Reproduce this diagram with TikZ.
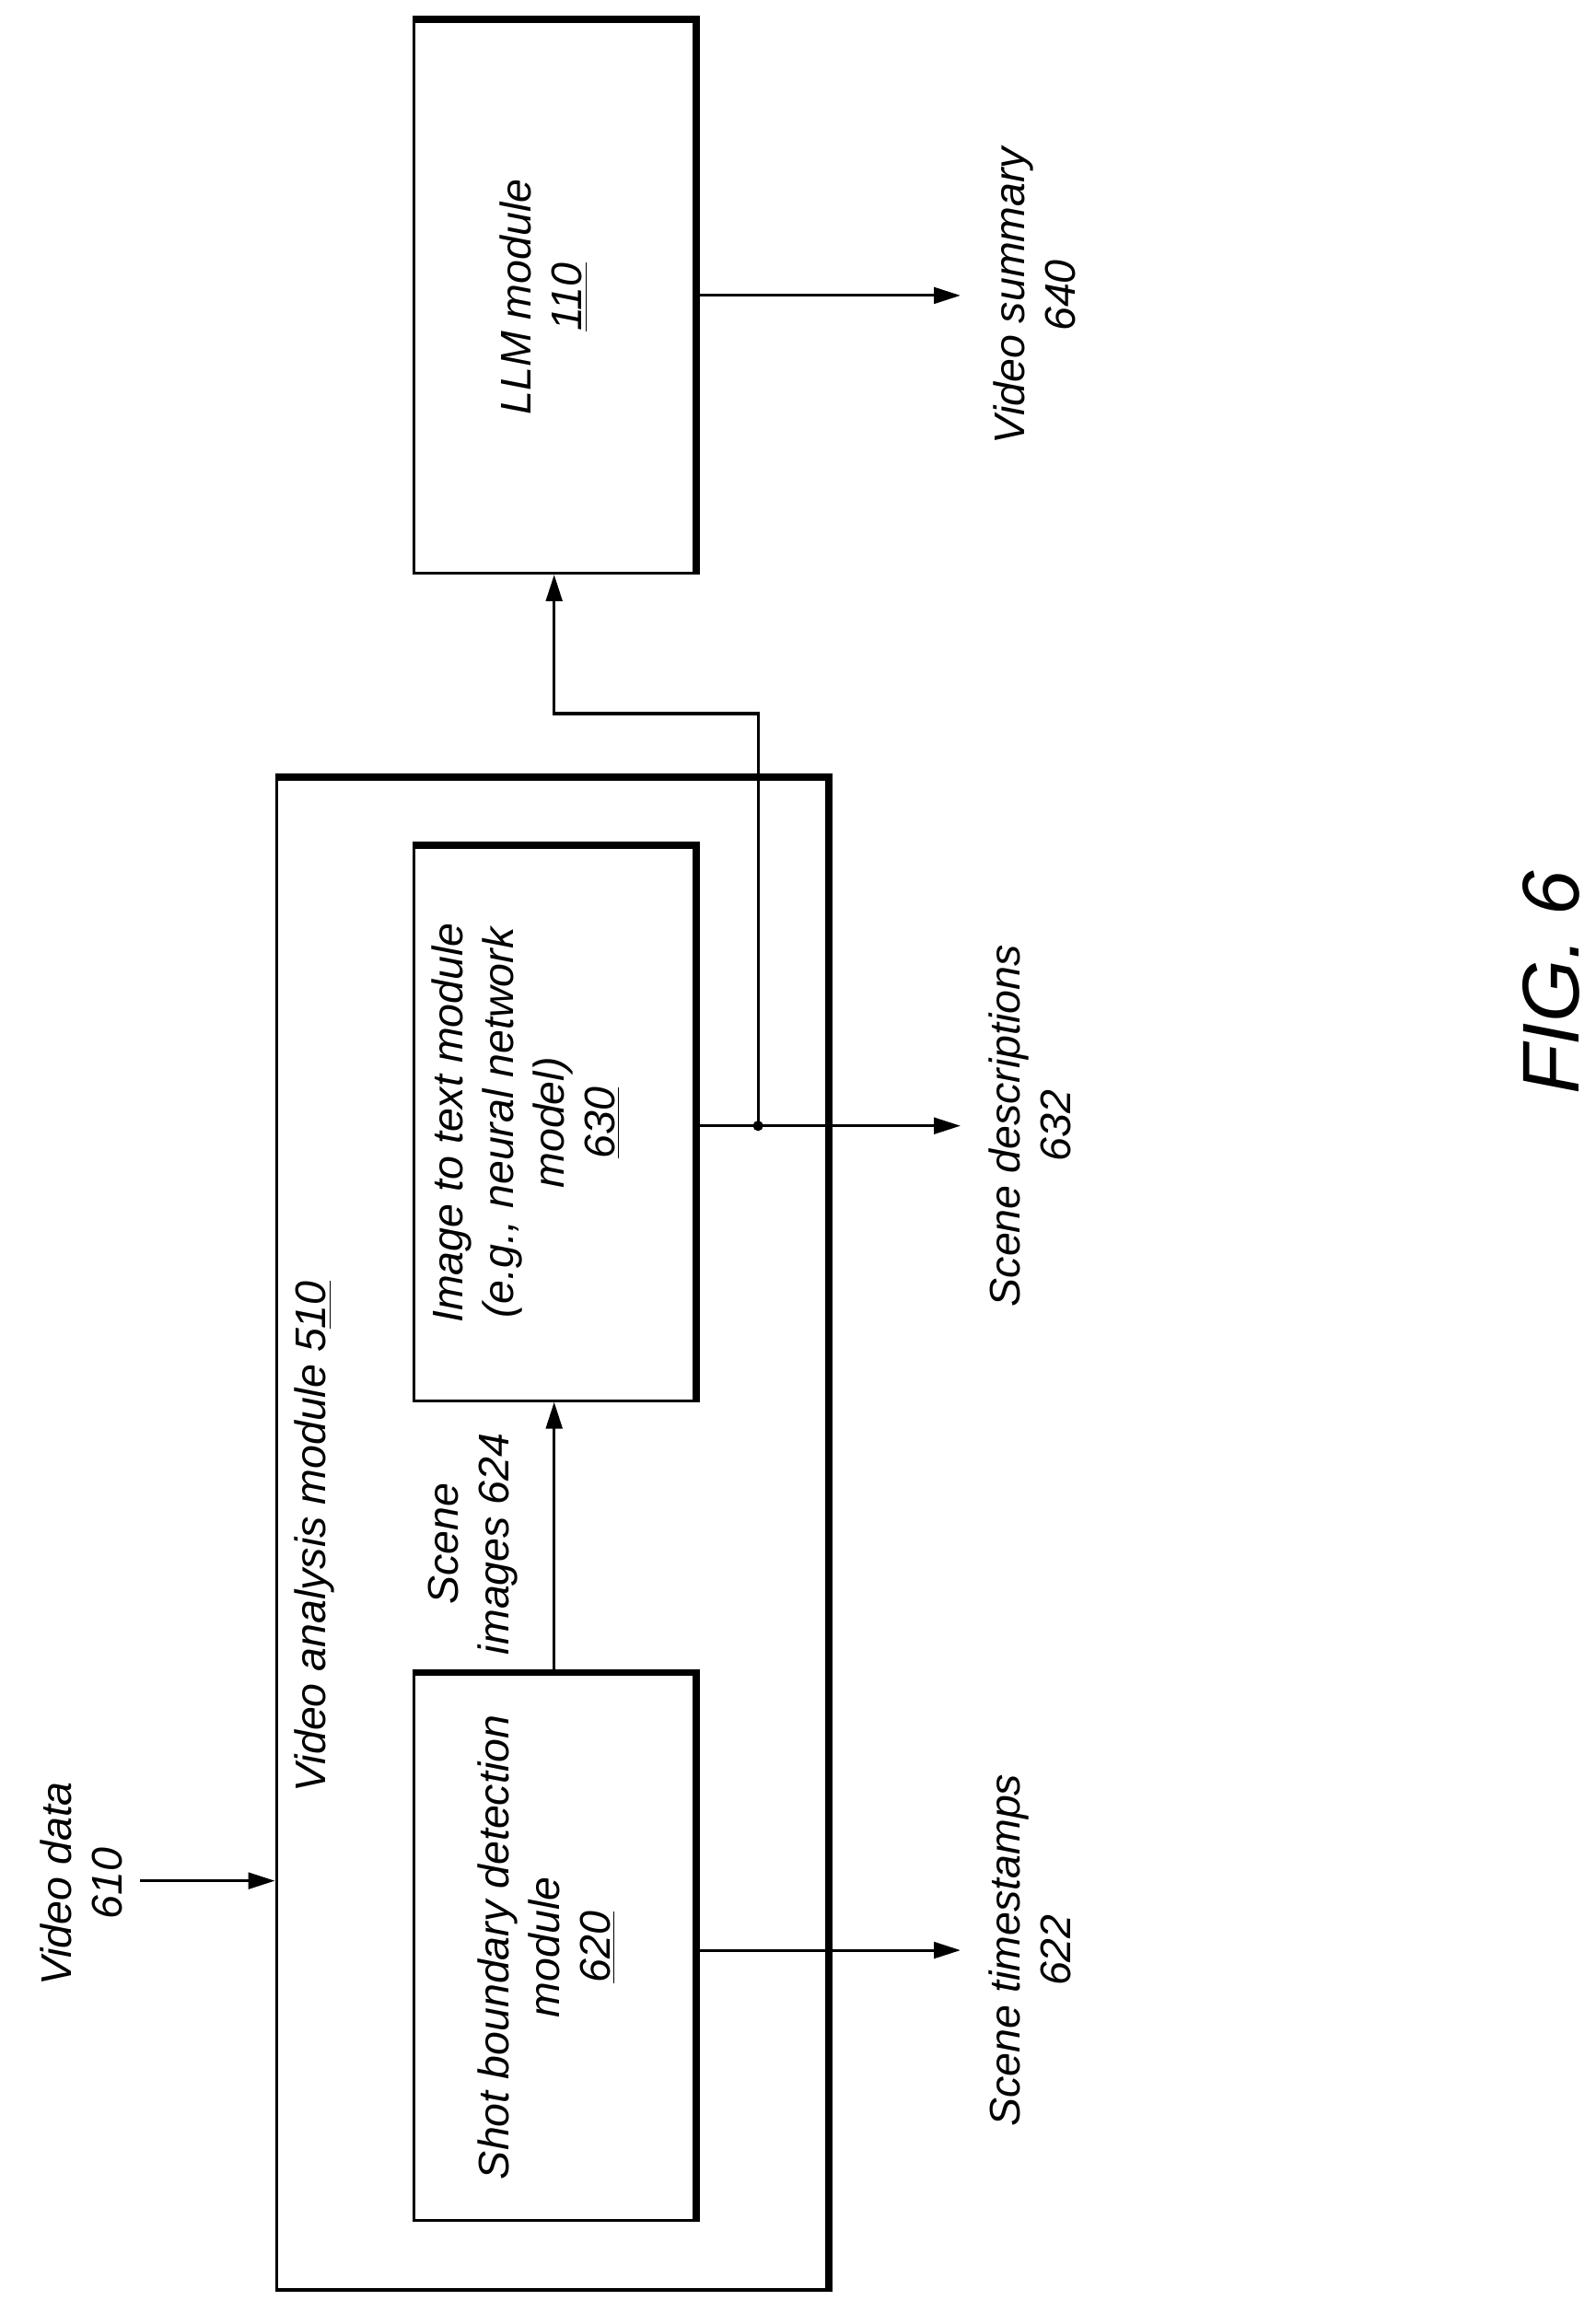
\documentclass[tikz,border=0pt]{standalone}
\usepackage{fontspec}
\setmainfont{Liberation Sans}
\usetikzlibrary{arrows.meta, positioning, calc}
\tikzset{
  box/.style={draw, line width=1.1pt, minimum width=3.8cm, inner sep=0pt},
  shadow edge/.style={line width=2.8pt},
  lbl/.style={rotate=90, align=center, font=\fontsize{16.5}{19.5}\selectfont\itshape},
  flow/.style={line width=1.1pt, -{Triangle[length=0.36cm, width=0.22cm]}}
}
\begin{document}
\begin{tikzpicture}[x=0.02cm, y=-0.02cm]
  \useasboundingbox (0,0) rectangle (1080,1573);
  % boxes
  \node[box, minimum width=7.46cm, minimum height=20.46cm] (vam) at (373.5,1038.5) {};
  \node[box, minimum height=7.4cm] (sbd) at (375,1318) {};
  \node[box, minimum height=7.5cm] (itt) at (375,760.5) {};
  \node[box, minimum height=7.48cm] (llm) at (375,201) {};
  \foreach \b in {vam, sbd, itt, llm}
    \draw[shadow edge] (\b.north west) -- (\b.north east) -- (\b.south east);
  % texts in boxes
  \node[lbl] (sbdtext) at (370,1318) {Shot boundary detection\\module\\\underline{620}};
  \node[lbl] (itttext) at (356,760) {Image to text module\\(e.g., neural network\\model)\\\underline{630}};
  \node[lbl] (llmtext) at (368,201) {LLM module\\\underline{110}};
  \node[lbl] (vamtext) at (213,1040) {Video analysis module 5\underline{10}};
  % outside labels
  \node[lbl] (vdata) at (55,1275) {Video data\\610};
  \node[lbl] (stamps) at (697,1320) {Scene timestamps\\622};
  \node[lbl] (descr) at (697,762) {Scene descriptions\\632};
  \node[lbl] (summ) at (700,200) {Video summary\\640};
  \node[lbl] (simg) at (320,1045) {Scene\\images 624};
  \node[rotate=90, font=\fontsize{31}{37}\selectfont\itshape] (fig) at (1050,665) {FIG. 6};
  % connectors
  \coordinate (vin) at (95,1273);
  \coordinate (tsend) at (650,1320);
  \coordinate (dsend) at (650,762);
  \coordinate (smend) at (650,200);
  \coordinate (split) at (513,762);
  \draw[flow] (vin) -- (vin -| vam.west);
  \draw[flow] (sbd.north) -- (itt.south);
  \draw[flow] (sbd.east |- tsend) -- (tsend);
  \draw[flow] (itt.east |- dsend) -- (dsend);
  \draw[flow] (llm.east |- smend) -- (smend);
  \fill (split) circle (0.07cm);
  \draw[flow] (split) -- (513,483) -| (llm.south);
\end{tikzpicture}
\end{document}
